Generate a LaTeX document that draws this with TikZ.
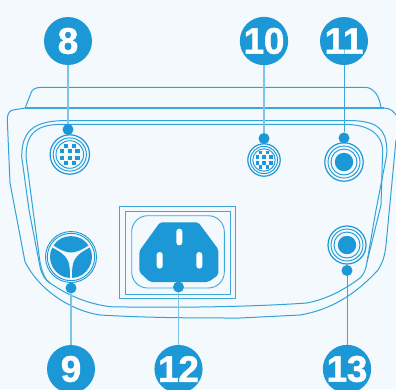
\documentclass[tikz,border=0pt]{standalone}
\usepackage{fontspec}
\setmainfont{Liberation Sans}
\newfontfamily\numfont[FakeBold=1.3,LetterSpace=-1]{Liberation Sans Bold}
\definecolor{bluem}{HTML}{1B98D5}
\definecolor{bluel}{HTML}{7CC5E9}
\definecolor{bgc}{HTML}{F3F9FD}
\tikzset{
  numnode/.style={circle,fill=bluem,draw=none,minimum size=48pt,inner sep=0pt,text=white,font=\fontsize{37}{37}\numfont},
  dotnode/.style={circle,fill=bluem,draw=none,minimum size=11pt,inner sep=0pt},
  leadl/.style={draw=bluel,line width=1.4pt},
  leadd/.style={draw=bluem!85!white,line width=1pt},
  ring/.style={draw=bluem,line width=0.9pt,fill=none},
  ringb/.style={draw=bluem,line width=1.2pt,fill=none},
  rim/.style={draw=bluem!90!white,line width=1pt},
}
\newcommand{\checkers}{%
  \foreach \px/\py in {-4/-8.7,4/-8.7,-7.8/-3.7,0/-3.7,7.8/-3.7,-7.8/3.7,0/3.7,7.8/3.7,-4/8.4,4/8.4}
    \fill[bluem] (\px-2.2,\py-2.2) rectangle (\px+2.2,\py+2.2);}
\begin{document}
\begin{tikzpicture}[x=1pt,y=-1pt]
\useasboundingbox (0,0) rectangle (396,389);
\clip (0,0) rectangle (396,389);
\fill[bgc] (0,0) rectangle (396,389);
% lid
\draw[rim] (25,108.3) -- (31,93) .. controls (32,89) and (36,87.3) .. (42,87.3) -- (365,87.3) .. controls (374,87.3) and (380,97) .. (381,108.3);
% body outer
\draw[rim] (398,118) .. controls (394,111) and (390,108) .. (384,108) -- (25,108) -- (13,110) .. controls (9,111) and (7.3,114) .. (7.3,120) -- (10,183) -- (25,261.7) .. controls (38,288) and (68,310) .. (100,315) .. controls (150,318) and (200,318) .. (240,318) -- (300,315) .. controls (330,310) and (355,295) .. (378,270) .. controls (383,262) and (385,255) .. (386,245) -- (396,140);
\draw[draw=bluem!85!white,line width=1.4pt] (25,108) -- (384,108);
% body inner lines
\draw[rim] (50,283) .. controls (70,297) and (90,304) .. (110,306.7) .. controls (170,308) and (250,307) .. (306.7,303) .. controls (328,299) and (345,289) .. (360,278) .. controls (365,273) and (366,268) .. (367,262) -- (376,210) -- (386.7,155) .. controls (388,130) and (378,122) .. (355,120.7) -- (60,120.7) .. controls (35,122) and (21.7,130) .. (21.7,156.7) -- (29,210) -- (40,266.7) .. controls (42,275) and (45,280) .. (50,283) -- cycle;
\draw[rim] (367,262) -- (381,205) -- (382.7,150) .. controls (382,135) and (370,124.3) .. (344,124.3) -- (60,124.3) .. controls (38,125) and (26,132) .. (26,156.7) -- (33,210) -- (40,262) .. controls (42,272) and (45,280) .. (50,283);
% panel rects
\draw[draw=bluem!85!white,line width=1pt] (119.3,206.7) rectangle (235.7,298.7);
\draw[draw=bluem!85!white,line width=1pt] (125.3,211.7) rectangle (230,294);
\draw[draw=bluem!85!white,line width=0.9pt,rounded corners=16pt] (131.7,215.7) rectangle (224.3,288);
% socket
\fill[bluem,rounded corners=2pt] (160,222.3) -- (198.3,222.3) -- (218.3,249.3) -- (218.3,275) -- (208.3,282) -- (150,282) -- (139.3,272) -- (139.3,251) -- cycle;
\foreach \sx/\sy in {179.3/237,159.7/260.3,199.3/260.3}
  \fill[white,rounded corners=2.9pt] (\sx-3,\sy-8.3) rectangle (\sx+3,\sy+8.3);
% connector 8
\begin{scope}[shift={(69.8,154.5)}]
  \draw[ringb] (0,0) circle (19.7);
  \draw[ring] (0,0) circle (16.6);
  \draw[ring] (0,0) circle (13.8);
  \checkers
\end{scope}
% connector 10
\begin{scope}[shift={(264,160)}]
  \draw[ringb] (0,0) circle (16.2);
  \draw[ring] (0,0) circle (13.6);
  \draw[ring] (0,0) circle (11.2);
  \begin{scope}[scale=0.85]\checkers\end{scope}
\end{scope}
% connector 11
\begin{scope}[shift={(344,162)}]
  \draw[ringb] (0,0) circle (19.2);
  \draw[ring] (0,0) circle (16);
  \draw[ring] (0,0) circle (13);
  \fill[bluem] (0,0) circle (9.2);
\end{scope}
% connector 13
\begin{scope}[shift={(347,245)}]
  \draw[ringb] (0,0) circle (19);
  \draw[ring] (0,0) circle (16);
  \draw[ring] (0,0) circle (13);
  \fill[bluem] (0,0) circle (9.2);
\end{scope}
% connector 9
\begin{scope}[shift={(71,257)}]
  \draw[ring] (0,0) circle (25.5);
  \draw[ring] (0,0) circle (23.7);
  \foreach \rr in {0,120,240}
    \fill[bluem,rotate=\rr] (-17.5,-11.5) .. controls (-10,-24) and (10,-24) .. (17.5,-11.5) .. controls (9,-6) and (4,-4.5) .. (0,-4.5) .. controls (-4,-4.5) and (-9,-6) .. (-17.5,-11.5) -- cycle;
\end{scope}
% callouts
\node[numnode] (n8) at (68,41) {8};
\node[numnode] (n10) at (264,41) {10};
\node[numnode] (n11) at (344,41) {11};
\node[numnode] (n9) at (71,369) {9};
\node[numnode] (n12) at (178.5,369) {12};
\node[numnode] (n13) at (347,369) {13};
\node[dotnode] (d8) at (68,129.5) {};
\node[dotnode] (d10) at (264,138.5) {};
\node[dotnode] (d11) at (344,138) {};
\node[dotnode] (d9) at (71,288) {};
\node[dotnode] (d12) at (178.5,287) {};
\node[dotnode] (d13) at (347,270.5) {};
\draw[leadl] (n8) -- (d8);
\draw[leadl] (n10) -- (d10);
\draw[leadd] (n11) -- (d11);
\draw[leadl] (n9) -- (d9);
\draw[leadl] (n12) -- (d12);
\draw[leadd] (n13) -- (d13);
\end{tikzpicture}
\end{document}
